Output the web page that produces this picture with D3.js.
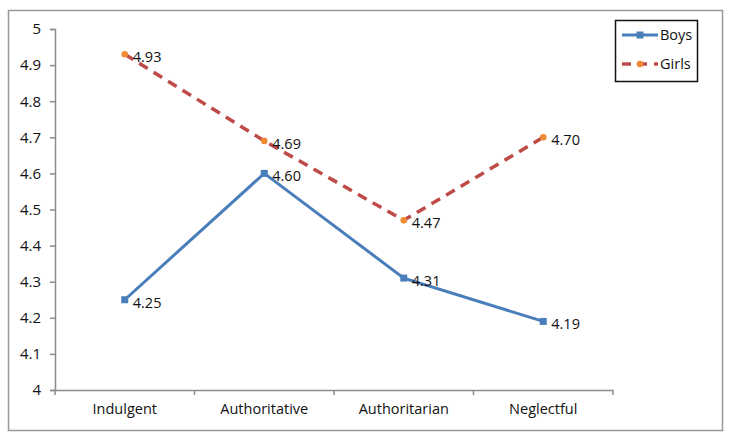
<!DOCTYPE html>
<html>
<head>
<meta charset="utf-8">
<script src="https://cdn.jsdelivr.net/npm/d3@7"></script>
<style>
  body { margin: 0; background: #fff; }
  text { font-family: "Open Sans", "Liberation Sans", sans-serif; fill: #111; }
</style>
</head>
<body>
<div id="chart"></div>
<script>
const categories = ["Indulgent", "Authoritative", "Authoritarian", "Neglectful"];
const boys = [4.25, 4.60, 4.31, 4.19];
const girls = [4.93, 4.69, 4.47, 4.70];
const yTicks = [4, 4.1, 4.2, 4.3, 4.4, 4.5, 4.6, 4.7, 4.8, 4.9, 5];

const width = 735, height = 445;
const margin = { top: 29, right: 122, bottom: 55, left: 55 };

const svg = d3.select("#chart").append("svg")
  .attr("width", width).attr("height", height);

// outer frame
svg.append("rect")
  .attr("x", 8.5).attr("y", 10.5)
  .attr("width", 714).attr("height", 420)
  .attr("fill", "none").attr("stroke", "#999").attr("stroke-width", 1.5);

const x = d3.scaleBand().domain(categories)
  .range([margin.left, width - margin.right]);
const y = d3.scaleLinear().domain([4, 5])
  .range([height - margin.bottom, margin.top]);

const axisColor = "#8c8c8c";

const xAxis = svg.append("g")
  .attr("transform", `translate(0,${height - margin.bottom})`)
  .call(d3.axisBottom(x).tickSize(0).tickPadding(14));
xAxis.select(".domain").attr("stroke", axisColor).attr("stroke-width", 1.5);
xAxis.selectAll("text").style("font-size", "14.5px");
// category boundary ticks
svg.append("g").selectAll("line")
  .data(categories.concat(["end"]))
  .join("line")
  .attr("x1", (d, i) => margin.left + i * x.bandwidth())
  .attr("x2", (d, i) => margin.left + i * x.bandwidth())
  .attr("y1", height - margin.bottom)
  .attr("y2", height - margin.bottom + 5)
  .attr("stroke", axisColor).attr("stroke-width", 1.5);

const yAxis = svg.append("g")
  .attr("transform", `translate(${margin.left},0)`)
  .call(d3.axisLeft(y).tickValues(yTicks).tickFormat(d3.format("")).tickSize(5).tickSizeOuter(5).tickPadding(9));
yAxis.select(".domain").attr("stroke", axisColor).attr("stroke-width", 1.5);
yAxis.selectAll(".tick line").attr("stroke", axisColor).attr("stroke-width", 1.5);
yAxis.selectAll("text").style("font-size", "15px");

const cx = d => x(d) + x.bandwidth() / 2;

const line = d3.line()
  .x((d, i) => cx(categories[i]))
  .y(d => y(d));

const boysColor = "#4a7ebb";
const girlsLine = "#be4b48";
const girlsMarker = "#f08a33";

// girls
svg.append("path").datum(girls)
  .attr("d", line)
  .attr("fill", "none")
  .attr("stroke", girlsLine)
  .attr("stroke-width", 3.5)
  .attr("stroke-dasharray", "10,7");
svg.append("g").selectAll("circle").data(girls).join("circle")
  .attr("cx", (d, i) => cx(categories[i]))
  .attr("cy", d => y(d))
  .attr("r", 3.3)
  .attr("fill", girlsMarker);

// boys
svg.append("path").datum(boys)
  .attr("d", line)
  .attr("fill", "none")
  .attr("stroke", boysColor)
  .attr("stroke-width", 3);
svg.append("g").selectAll("rect").data(boys).join("rect")
  .attr("x", (d, i) => cx(categories[i]) - 3.5)
  .attr("y", d => y(d) - 3.5)
  .attr("width", 7).attr("height", 7)
  .attr("fill", boysColor);

// data labels
const fmt = d3.format(".2f");
[boys, girls].forEach(series => {
  svg.append("g").selectAll("text").data(series).join("text")
    .attr("x", (d, i) => cx(categories[i]) + 8)
    .attr("y", d => y(d) + 8)
    .style("font-size", "14.5px")
    .text(d => fmt(d));
});

// legend
const legend = svg.append("g").attr("transform", "translate(615,20)");
legend.append("rect")
  .attr("x", 0.5).attr("y", 0.5)
  .attr("width", 82).attr("height", 61)
  .attr("fill", "#fff").attr("stroke", "#111").attr("stroke-width", 1.5);
legend.append("line")
  .attr("x1", 7).attr("x2", 43).attr("y1", 15).attr("y2", 15)
  .attr("stroke", boysColor).attr("stroke-width", 3);
legend.append("rect")
  .attr("x", 21.5).attr("y", 11.5).attr("width", 7).attr("height", 7)
  .attr("fill", boysColor);
legend.append("text").attr("x", 45).attr("y", 20)
  .style("font-size", "14.5px").text("Boys");
legend.append("line")
  .attr("x1", 7).attr("x2", 43).attr("y1", 44).attr("y2", 44)
  .attr("stroke", girlsLine).attr("stroke-width", 3.5)
  .attr("stroke-dasharray", "9,7");
legend.append("circle")
  .attr("cx", 25).attr("cy", 44).attr("r", 3.3)
  .attr("fill", girlsMarker);
legend.append("text").attr("x", 45).attr("y", 49)
  .style("font-size", "14.5px").text("Girls");
</script>
</body>
</html>
